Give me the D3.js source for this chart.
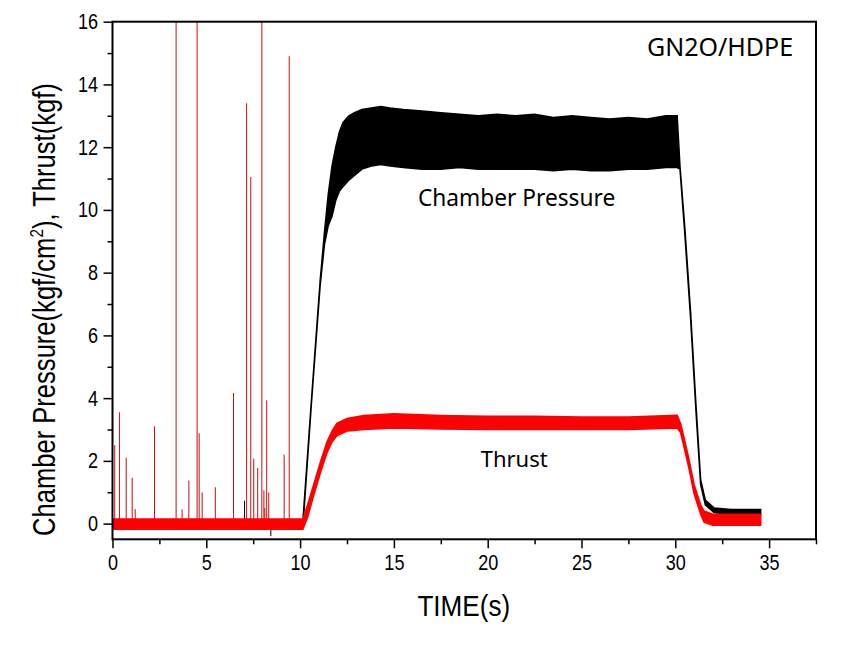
<!DOCTYPE html>
<html><head><meta charset="utf-8">
<script src="https://cdn.jsdelivr.net/npm/d3@7/dist/d3.min.js"></script>
<style>body{margin:0;background:#fff}</style>
</head><body>
<svg id="c" width="859" height="651"></svg>
<script>
// ---- data ----
const xTicks = [0, 5, 10, 15, 20, 25, 30, 35];
const xMinorTicks = [2.5, 7.5, 12.5, 17.5, 22.5, 27.5, 32.5, 37.5];
const yTicks = [0, 2, 4, 6, 8, 10, 12, 14, 16];
const yMinorTicks = [1, 3, 5, 7, 9, 11, 13, 15];

const pressureTime  = [0, 10.15, 10.6, 11.07, 11.3, 11.5, 11.7, 11.9, 12.1, 12.3, 12.6, 12.9, 13.3, 13.8, 14.3, 14.8, 15.5, 16.5, 17.5, 18.5, 19.5, 20.5, 21.5, 22.5, 23.5, 24.5, 25.5, 26.5, 27.5, 28.5, 29.5, 30.1, 30.25, 30.5, 30.82, 31.1, 31.35, 31.6, 32.06, 33, 34.55];
const pressureUpper = [0.1, 0.1, 3.9, 7.75, 9.3, 10.5, 11.4, 12.0, 12.5, 12.8, 13.0, 13.1, 13.2, 13.25, 13.3, 13.25, 13.2, 13.15, 13.1, 13.05, 13.0, 13.05, 13.0, 13.05, 12.95, 13.0, 12.95, 12.9, 12.95, 12.9, 13.0, 13.0, 11.4, 9.5, 6.7, 3.8, 1.4, 0.75, 0.5, 0.45, 0.45];
const pressureLower = [-0.1, -0.1, 3.8, 7.6, 8.9, 9.5, 9.8, 10.3, 10.6, 10.75, 10.95, 11.1, 11.3, 11.4, 11.45, 11.4, 11.35, 11.3, 11.3, 11.35, 11.3, 11.3, 11.3, 11.3, 11.25, 11.3, 11.25, 11.25, 11.3, 11.3, 11.35, 11.35, 11.3, 9.3, 6.5, 3.6, 1.25, 0.6, 0.35, 0.28, 0.28];

const thrustTime  = [0, 10.15, 10.4, 10.7, 11.1, 11.43, 11.7, 11.96, 12.5, 13.4, 15, 17.5, 20, 22.5, 25, 27.5, 30.1, 30.28, 30.5, 30.73, 31.0, 31.35, 31.53, 32, 33, 34.55];
const thrustUpper = [0.15, 0.15, 0.6, 1.2, 2.0, 2.6, 2.95, 3.2, 3.35, 3.45, 3.5, 3.45, 3.42, 3.42, 3.4, 3.4, 3.45, 3.2, 2.65, 2.05, 1.25, 0.6, 0.4, 0.3, 0.3, 0.3];
const thrustLower = [-0.18, -0.18, 0.2, 0.85, 1.65, 2.25, 2.6, 2.8, 2.95, 3.0, 3.05, 3.02, 3.0, 3.0, 3.0, 3.0, 3.05, 2.9, 2.35, 1.75, 0.95, 0.3, 0.05, -0.05, -0.05, -0.05];

const spikeTime   = [0.12, 0.37, 0.73, 1.05, 1.21, 2.24, 3.39, 3.71, 4.07, 4.51, 4.62, 4.78, 5.48, 6.45, 7.15, 7.37, 7.53, 7.74, 7.96, 8.07, 8.12, 8.22, 8.33, 9.15, 9.42];
const spikeHeight = [2.5, 3.55, 2.1, 1.46, 0.46, 3.1, 17, 0.45, 1.37, 17, 2.88, 0.99, 1.16, 4.16, 13.4, 11.05, 2.07, 1.77, 17, 1.06, 0.5, 3.93, 0.99, 2.2, 14.9];
const blackSpikeTime  = [7.04, 8.44];
const blackSpikeValue = [0.73, -0.4];

// ---- layout ----
const L = 112.5, R = 816, T = 21.7, B = 539.3;
const NARROW = 0.82;
const svg = d3.select("#c");
const x = d3.scaleLinear().domain([0, 37.5]).range([L, R]);
const y = d3.scaleLinear().domain([-0.5, 16]).range([B, T]);
const axisFont = "'Liberation Sans', Arial, sans-serif";
const labelFont = "'Noto Sans', 'Open Sans', sans-serif";

svg.append("clipPath").attr("id", "clip").append("rect")
  .attr("x", L).attr("y", T).attr("width", R - L).attr("height", B - T);
const g = svg.append("g").attr("clip-path", "url(#clip)");

// pressure band
const pData = pressureTime.map((t, i) => ({t, hi: pressureUpper[i], lo: pressureLower[i]}));
g.append("path").datum(pData)
  .attr("d", d3.area().x(d => x(d.t)).y0(d => y(d.lo)).y1(d => y(d.hi)))
  .attr("fill", "#000").attr("stroke", "#000").attr("stroke-width", 1.5);

g.selectAll(".bs").data(blackSpikeTime).join("line")
  .attr("x1", d => x(d)).attr("x2", d => x(d))
  .attr("y1", y(0)).attr("y2", (d, i) => y(blackSpikeValue[i]))
  .attr("stroke", "#000").attr("stroke-width", 1);

// thrust spikes
g.selectAll(".sp").data(spikeTime).join("line")
  .attr("x1", d => x(d)).attr("x2", d => x(d))
  .attr("y1", y(0)).attr("y2", (d, i) => y(spikeHeight[i]))
  .attr("stroke", "#c01010").attr("stroke-width", 1);

// thrust band
const tData = thrustTime.map((t, i) => ({t, hi: thrustUpper[i], lo: thrustLower[i]}));
g.append("path").datum(tData)
  .attr("d", d3.area().x(d => x(d.t)).y0(d => y(d.lo)).y1(d => y(d.hi)))
  .attr("fill", "#ff0000").attr("stroke", "#ff0000").attr("stroke-width", 1.5);

// axes
const xAxis = svg.append("g").attr("transform", `translate(0,${B})`)
  .call(d3.axisBottom(x).tickValues(xTicks).tickSize(9).tickPadding(6).tickSizeOuter(0));
svg.append("g").attr("transform", `translate(0,${B})`)
  .call(d3.axisBottom(x).tickValues(xMinorTicks).tickSize(5).tickFormat("").tickSizeOuter(0));
const yAxis = svg.append("g").attr("transform", `translate(${L},0)`)
  .call(d3.axisLeft(y).tickValues(yTicks).tickSize(9).tickPadding(4).tickSizeOuter(0));
svg.append("g").attr("transform", `translate(${L},0)`)
  .call(d3.axisLeft(y).tickValues(yMinorTicks).tickSize(5).tickFormat("").tickSizeOuter(0));
svg.selectAll(".domain").remove();
svg.selectAll(".tick line").attr("stroke", "#000").attr("stroke-width", 1.5);
xAxis.selectAll("text").attr("font-family", axisFont).attr("font-size", 22).attr("fill", "#000")
  .attr("transform", `scale(${NARROW},1)`);
yAxis.selectAll("text").attr("font-family", axisFont).attr("font-size", 22).attr("fill", "#000")
  .attr("x", -14.5 / NARROW).attr("transform", `scale(${NARROW},1)`);

svg.append("rect").attr("x", L).attr("y", T).attr("width", R - L).attr("height", B - T)
  .attr("fill", "none").attr("stroke", "#000").attr("stroke-width", 2);

// titles
svg.append("text").attr("transform", `translate(${(L + R) / 2 - 0.5},616) scale(0.9,1)`)
  .attr("text-anchor", "middle").attr("font-family", axisFont).attr("font-size", 29)
  .text("TIME(s)");
const yt = svg.append("text").attr("transform", `translate(55,536) rotate(-90) scale(${NARROW},1)`)
  .attr("text-anchor", "start").attr("font-family", axisFont).attr("font-size", 28);
yt.append("tspan").text("Chamber Pressure(kgf/cm");
const sup = yt.append("tspan").attr("font-size", 17).attr("dy", -11).text("2");
yt.append("tspan").attr("dy", 11).text("), Thrust(kgf)");
// fit the title length to the reference (453 px)
const len = yt.node().getComputedTextLength() * NARROW;
const f = 28 * 453 / len;
yt.attr("font-size", f);
sup.attr("font-size", f * 0.6).attr("dy", -f * 0.4);
yt.select("tspan:last-child").attr("dy", f * 0.4);

svg.append("text").attr("x", 647).attr("y", 56).attr("font-family", labelFont).attr("font-size", 25).text("GN2O/HDPE");
svg.append("text").attr("x", 418).attr("y", 205.7).attr("font-family", labelFont).attr("font-size", 22.7).text("Chamber Pressure");
svg.append("text").attr("x", 480.7).attr("y", 467.3).attr("font-family", labelFont).attr("font-size", 22).text("Thrust");
</script>
</body></html>
